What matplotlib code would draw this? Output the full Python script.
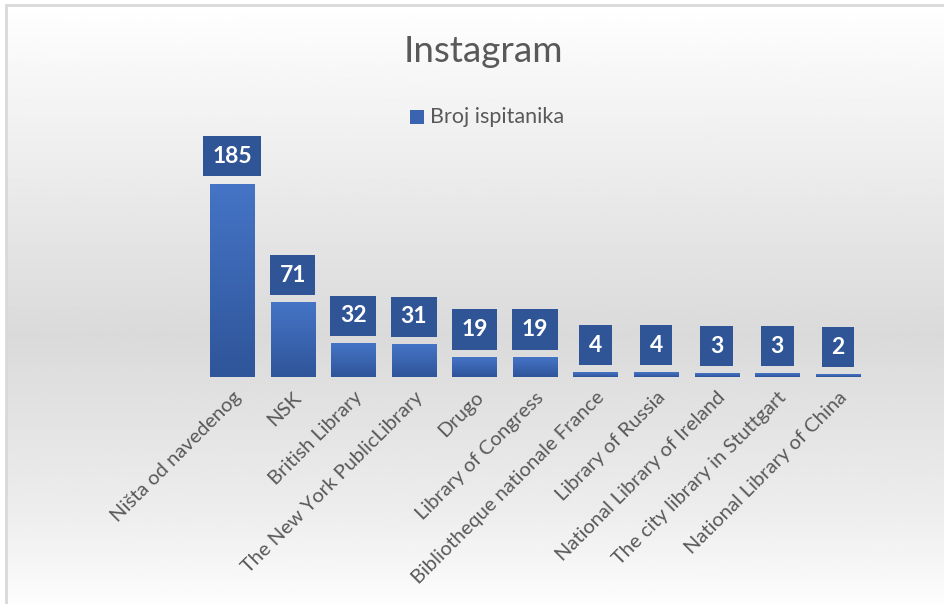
import numpy as np
import matplotlib
matplotlib.use('Agg')
from matplotlib import pyplot as plt
from matplotlib.patches import Rectangle
from matplotlib.colors import LinearSegmentedColormap

categories = ['Ništa od navedenog', 'NSK', 'British Library', 'The New York PublicLibrary',
              'Drugo', 'Library of Congress', 'Bibliotheque nationale France', 'Library of Russia',
              'National Library of Ireland', 'The city library in Stuttgart', 'National Library of China']
values = [185, 71, 32, 31, 19, 19, 4, 4, 3, 3, 2]
series_name = 'Broj ispitanika'
title = 'Instagram'

plt.rcParams['font.family'] = ['Lato', 'DejaVu Sans']
W, H = 945, 604
fig = plt.figure(figsize=(W / 100, H / 100), dpi=100)
fig.patch.set_facecolor('white')

# background: vertical gradient white -> gray -> white inside a thin border
bg = fig.add_axes([7 / W, 0, 1 - 7 / W, 1 - 6 / H], zorder=-10)
bg.axis('off')
ys = np.linspace(0, 1, 300)
grad = np.interp(ys, [0, 0.1, 0.55, 0.85, 1.0], [1.0, 0.97, 0.855, 0.93, 0.99])
bg.imshow(np.tile(grad[:, None], (1, 2)), cmap='gray', vmin=0, vmax=1, aspect='auto',
          extent=[0, 1, 0, 1], origin='upper')
bg.set_xlim(0, 1)
bg.set_ylim(0, 1)
fig.add_artist(Rectangle((6 / W, -0.01), 1.0, 1 - 5.5 / H + 0.01, transform=fig.transFigure,
                         fill=False, edgecolor='#d9d9d9', lw=2))

x = np.arange(len(values))
ax = fig.add_axes([201.75 / W, 1 - 377 / H, 666.5 / W, 208.6 / H])
ax.patch.set_alpha(0)
for s in ax.spines.values():
    s.set_visible(False)
ax.tick_params(left=False, bottom=False, labelleft=False)

bar_cmap = LinearSegmentedColormap.from_list('b', ['#4574c6', '#2f559a'])
bars = ax.bar(x, values, width=0.73, color='#3b64b0', zorder=2)
for b in bars:
    bx, by = b.get_x(), b.get_y()
    bw, bh = b.get_width(), b.get_height()
    ax.imshow(np.linspace(0, 1, 100)[:, None], cmap=bar_cmap, aspect='auto',
              extent=[bx, bx + bw, by, by + bh], origin='upper', zorder=3)
    ax.annotate(f'{int(bh)}', (bx + bw / 2, bh), xytext=(0, 20), textcoords='offset points',
                ha='center', va='center', color='white', fontsize=16.5, fontweight='bold',
                bbox=dict(boxstyle='square,pad=0.42', fc='#2f5597', ec='none'), zorder=5)
ax.set_xlim(-0.5, len(values) - 0.5)
ax.set_ylim(0, 200)

ax.set_xticks(x)
ax.set_xticklabels(categories, rotation=45, ha='right', rotation_mode='anchor',
                   fontsize=14.5, color='#595959')
ax.tick_params(axis='x', pad=5)

fig.text(483 / W, 1 - 52 / H, title, ha='center', va='center', fontsize=26.5, color='#595959')
fig.add_artist(Rectangle((410 / W, 1 - 124 / H), 14 / W, 14 / H, transform=fig.transFigure,
                         fc='#3b64b0', ec='none'))
fig.text(430 / W, 1 - 117 / H, series_name, ha='left', va='center', fontsize=15.5, color='#595959')

fig.savefig('out.png', dpi=100)
